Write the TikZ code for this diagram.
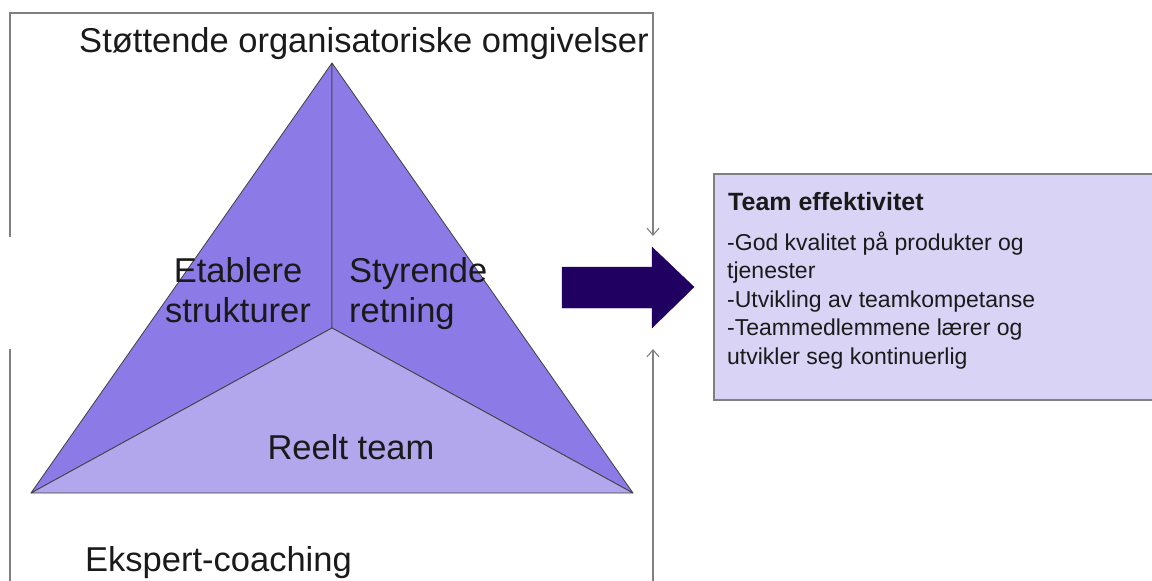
\documentclass[tikz,border=0pt]{standalone}
\usepackage{fontspec}
\setmainfont{Liberation Sans}
\usetikzlibrary{arrows.meta}
\definecolor{sideface}{RGB}{140,122,230}
\definecolor{baseface}{RGB}{178,166,236}
\definecolor{boxfill}{RGB}{217,211,245}
\definecolor{bigarrow}{RGB}{32,0,96}
\definecolor{framegray}{RGB}{128,128,128}
\definecolor{ink}{RGB}{26,26,26}
\begin{document}
\begin{tikzpicture}[x=1pt,y=-1pt,
  face/.style={draw=black!75,line width=0.8pt,line join=round},
  frameline/.style={draw=framegray,line width=1.3pt},
  tipline/.style={draw=framegray,line width=1.1pt,-{Straight Barb[length=7pt,width=12pt]}},
  biglabel/.style={font=\fontsize{34.5}{40}\selectfont,text=ink,inner sep=0pt},
  boxtext/.style={font=\fontsize{23}{28.4}\selectfont,text=ink,inner sep=0pt,align=left,anchor=base west}]
\useasboundingbox (0,0) rectangle (1152,581);
% triangle corners and centre
\coordinate (apex) at (332,63);
\coordinate (bl) at (31,493);
\coordinate (br) at (633,493);
\coordinate (mid) at (332,328);
\filldraw[face,fill=sideface] (apex) -- (bl) -- (mid) -- cycle;
\filldraw[face,fill=sideface] (apex) -- (mid) -- (br) -- cycle;
\filldraw[face,fill=baseface] (bl) -- (br) -- (mid) -- cycle;
% surrounding frame
\coordinate (ftl) at (10,13);
\coordinate (ftr) at (653,13);
\coordinate (fl1) at (10,237);
\coordinate (fl2) at (10,349);
\coordinate (flb) at (10,582);
\coordinate (frb) at (653,582);
\coordinate (tipdown) at (653,236);
\coordinate (tipup) at (653,349);
\draw[frameline] (fl1) -- (ftl) -- (ftr) -- (653,200);
\draw[tipline] (653,199) -- (tipdown);
\draw[frameline] (fl2) -- (flb);
\draw[tipline] (frb) -- (tipup);
% labels (multi-line nodes are placed by the baseline of their last line)
\node[biglabel,anchor=base] (support) at (364,52) {Støttende organisatoriske omgivelser};
\node[biglabel,anchor=base,align=center,font=\fontsize{34.5}{40}\selectfont] (estab) at (238,322) {Etablere\\strukturer};
\node[biglabel,anchor=base west,align=left,font=\fontsize{34.5}{40}\selectfont] (steer) at (349,322) {Styrende\\retning};
\node[biglabel,anchor=base] (real) at (351,459) {Reelt team};
\node[biglabel,anchor=base west] (coach) at (85,571) {Ekspert-coaching};
% big arrow
\filldraw[fill=bigarrow,draw=bigarrow] (562,267) -- (652,267) -- (652,247) -- (694,287) -- (652,328) -- (652,308) -- (562,308) -- cycle;
% outcome box
\filldraw[fill=boxfill,draw=framegray,line width=1.2pt] (714,174) rectangle (1162,400);
\node[boxtext,font=\bfseries\fontsize{25}{28}\selectfont] (title) at (728,210) {Team effektivitet};
\node[boxtext] (body) at (727,364) {-God kvalitet på produkter og\\tjenester\\-Utvikling av teamkompetanse\\-Teammedlemmene lærer og\\utvikler seg kontinuerlig};
\end{tikzpicture}
\end{document}
